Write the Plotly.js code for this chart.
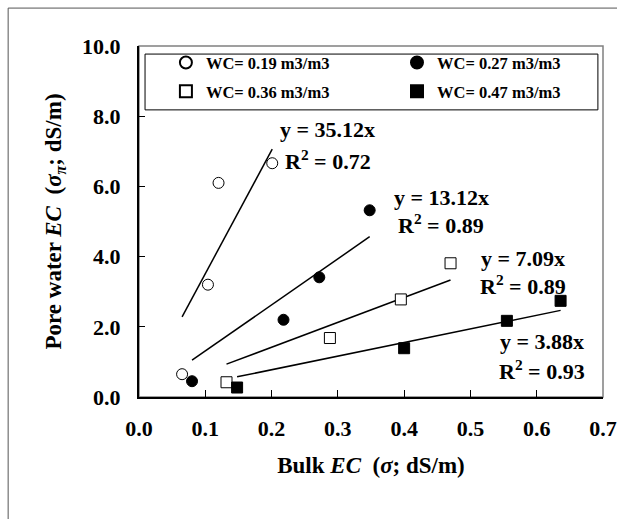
<!DOCTYPE html>
<html>
<head>
<meta charset="utf-8">
<script src="https://cdn.plot.ly/plotly-3.0.1.min.js"></script>
<style>html,body{margin:0;padding:0;background:#fff;}#chart{width:617px;height:519px;}</style>
</head>
<body>
<div id="chart"></div>
<script>
// Data
var seriesNames = ['WC= 0.19 m3/m3', 'WC= 0.27 m3/m3', 'WC= 0.36 m3/m3', 'WC= 0.47 m3/m3'];
var wc19X = [0.065, 0.104, 0.120, 0.201];
var wc19Y = [0.65, 3.20, 6.10, 6.66];
var wc27X = [0.080, 0.218, 0.272, 0.348];
var wc27Y = [0.45, 2.20, 3.41, 5.32];
var wc36X = [0.132, 0.288, 0.395, 0.470];
var wc36Y = [0.42, 1.68, 2.78, 3.81];
var wc47X = [0.148, 0.400, 0.555, 0.636];
var wc47Y = [0.27, 1.39, 2.17, 2.74];
var slopes = [35.12, 13.12, 7.09, 3.88];
var r2Values = [0.72, 0.89, 0.89, 0.93];
var xTickVals = [0, 0.1, 0.2, 0.3, 0.4, 0.5, 0.6, 0.7];
var yTickVals = [0, 2, 4, 6, 8, 10];
// label anchor positions (data coordinates) for the fit equations
var eqLabelX = [0.285, 0.456, 0.579, 0.608];
var eqLabelY = [7.63, 5.69, 3.95, 1.58];
var r2LabelY = [6.75, 4.93, 3.19, 0.77];

var FONT = 'Liberation Serif, Times New Roman, serif';
var xs = [wc19X, wc27X, wc36X, wc47X];
var ys = [wc19Y, wc27Y, wc36Y, wc47Y];
var symbols = ['circle', 'circle', 'square', 'square'];
var fills = ['#ffffff', '#000000', '#ffffff', '#000000'];
var legendIds = ['legend', 'legend2', 'legend3', 'legend4'];

var traces = [];
for (var i = 0; i < 4; i++) {
  var xmin = Math.min.apply(null, xs[i]);
  var xmax = Math.max.apply(null, xs[i]);
  traces.push({
    x: [xmin, xmax], y: [slopes[i] * xmin, slopes[i] * xmax],
    mode: 'lines', line: {color: '#000', width: 1.5},
    showlegend: false, hoverinfo: 'skip'
  });
}
for (var j = 0; j < 4; j++) {
  traces.push({
    x: xs[j], y: ys[j], name: seriesNames[j],
    mode: 'markers', legend: legendIds[j],
    marker: {symbol: symbols[j], size: 11, color: fills[j], line: {color: '#000', width: 1}}
  });
}

var annotations = [];
for (var k = 0; k < 4; k++) {
  annotations.push({
    x: eqLabelX[k], y: eqLabelY[k], xref: 'x', yref: 'y',
    text: '<b>y = ' + slopes[k].toFixed(2) + 'x</b>', showarrow: false,
    font: {family: FONT, size: 22, color: '#000'}, xanchor: 'center', yanchor: 'middle'
  });
  annotations.push({
    x: eqLabelX[k], y: r2LabelY[k], xref: 'x', yref: 'y',
    text: '<b>R<sup>2</sup> = ' + r2Values[k].toFixed(2) + '</b>', showarrow: false,
    font: {family: FONT, size: 22, color: '#000'}, xanchor: 'center', yanchor: 'middle'
  });
}

function mkLegend(x, y) {
  return {
    x: x, y: y, xanchor: 'left', yanchor: 'middle',
    bgcolor: 'rgba(0,0,0,0)', borderwidth: 0,
    font: {family: FONT, size: 16.5, color: '#000', weight: 'bold'},
    itemsizing: 'constant'
  };
}

var layout = {
  width: 617, height: 519,
  margin: {l: 139, r: 14, t: 46, b: 122},
  paper_bgcolor: '#fff', plot_bgcolor: '#fff',
  font: {family: FONT, color: '#000'},
  showlegend: true,
  legend: mkLegend(0.058, 0.952),
  legend2: mkLegend(0.556, 0.952),
  legend3: mkLegend(0.058, 0.870),
  legend4: mkLegend(0.556, 0.870),
  xaxis: {
    range: [0, 0.7], tickvals: xTickVals, tickformat: '.1f',
    ticks: 'inside', ticklen: 7, tickwidth: 1, tickcolor: '#000',
    showline: true, linecolor: '#000', linewidth: 2, mirror: false,
    showgrid: false, zeroline: false,
    tickfont: {family: FONT, size: 22, color: '#000', weight: 'bold'},
    ticklabelstandoff: 11, ticklabeloverflow: 'allow',
    title: {text: '<b>Bulk <i>EC</i>  (<i>σ</i>; dS/m)</b>', font: {family: FONT, size: 23, color: '#000'}, standoff: 16}
  },
  yaxis: {
    range: [0, 10], tickvals: yTickVals, tickformat: '.1f',
    ticks: 'inside', ticklen: 6, tickwidth: 1, tickcolor: '#000',
    showline: true, linecolor: '#000', linewidth: 2, mirror: false,
    showgrid: false, zeroline: false,
    tickfont: {family: FONT, size: 22, color: '#000', weight: 'bold'},
    ticklabelstandoff: 12, ticklabeloverflow: 'allow',
    title: {text: '<b>Pore water <i>EC</i>  (<i>σ<sub>π</sub></i>; dS/m)</b>', font: {family: FONT, size: 23, color: '#000'}, standoff: 14}
  },
  shapes: [
    {type: 'rect', xref: 'paper', yref: 'paper', x0: 0, x1: 1, y0: 0, y1: 1,
     line: {color: '#808080', width: 1.5}, layer: 'below'},
    {type: 'rect', xref: 'paper', yref: 'paper', x0: 0.013, x1: 0.989, y0: 0.818, y1: 0.977,
     line: {color: '#000', width: 1}, fillcolor: 'rgba(0,0,0,0)', layer: 'above'},
    {type: 'rect', xref: 'paper', yref: 'paper', x0: -0.282, x1: 1.2, y0: -0.4, y1: 1.108,
     line: {color: '#555', width: 1}, fillcolor: 'rgba(0,0,0,0)', layer: 'below'}
  ],
  annotations: annotations
};

Plotly.newPlot('chart', traces, layout, {displayModeBar: false, staticPlot: true});
</script>
</body>
</html>
